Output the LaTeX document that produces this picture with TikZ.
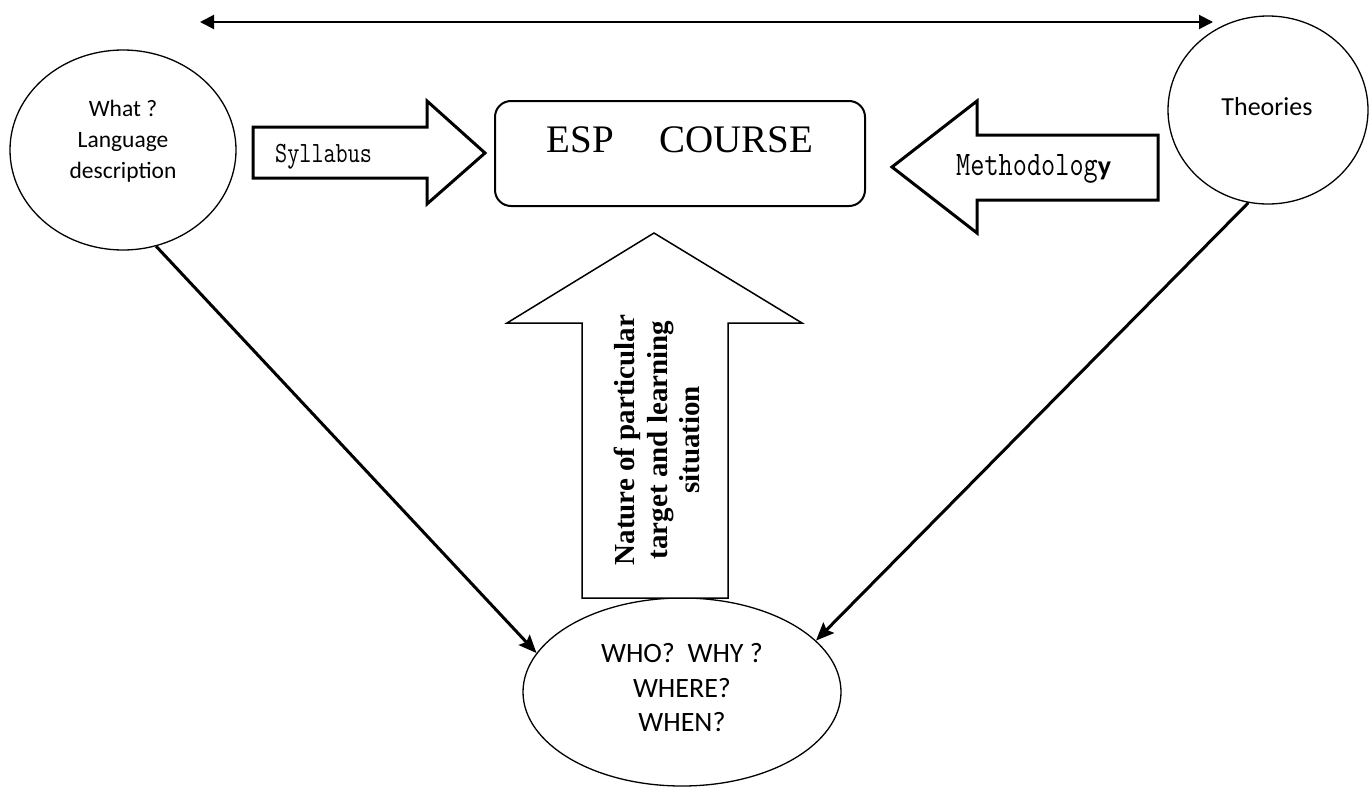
\documentclass[tikz,border=0pt]{standalone}
\usepackage{fontspec}
\setmainfont{Liberation Serif}
\newfontfamily\calibri{Carlito}
\usetikzlibrary{shapes.geometric,arrows.meta}
\tikzset{
  bubble/.style={ellipse, draw, line width=1.3pt, inner sep=0pt},
  blockarrow/.style={draw, line width=3pt, line join=miter, fill=white},
  thinblock/.style={draw, line width=1.5pt, line join=miter, fill=white},
  link/.style={line width=3pt, -{Stealth[length=18pt,width=15pt,inset=3pt]}},
  span/.style={line width=2pt, {Triangle[length=14pt,width=14pt]}-{Triangle[length=14pt,width=14pt]}},
  caltext/.style={font=\calibri, align=center, inner sep=0pt}
}
\begin{document}
\begin{tikzpicture}[x=1pt,y=-1pt]
\useasboundingbox (0,0) rectangle (1371,787);

% top double-headed arrow
\coordinate (tl) at (200,22);
\coordinate (tr) at (1213,22);
\draw[span] (tl) -- (tr);

% source circles
\node[bubble, minimum width=226pt, minimum height=200pt] (lang) at (123,150) {};
\node[caltext, font=\calibri\fontsize{23.5}{31}\selectfont] (langtxt) at (123,141) {What ?\\Language\\description};

\node[bubble, minimum width=200pt, minimum height=188pt] (theo) at (1268,110) {};
\node[caltext, font=\calibri\fontsize{26}{31}\selectfont] (theotxt) at (1267,107) {Theories};

% central course box
\node[draw, line width=2pt, rounded corners=16pt, minimum width=370pt, minimum height=105pt] (esp) at (680,153.5) {};
\node[anchor=base, inner sep=0pt, font=\fontsize{39}{44}\selectfont] (esptxt) at (680,152.7) {ESP\hspace{45pt}COURSE};

% syllabus block arrow
\draw[blockarrow] (253,127) -- (427,127) -- (427,101) -- (485,153) -- (427,204) -- (427,178) -- (253,178) -- cycle;
\node[anchor=base west, inner sep=0pt, font=\ttfamily\fontsize{23.5}{28}\selectfont] (syl) at (275,162) {\scalebox{1}[1.25]{Syllabus}};

% methodology block arrow
\draw[blockarrow] (1158,135) -- (977,135) -- (977,101) -- (892,167) -- (977,233) -- (977,200) -- (1158,200) -- cycle;
\node[anchor=base west, inner sep=0pt] (meth) at (956,175) {\scalebox{1}[1.25]{\ttfamily\fontsize{27.5}{32}\selectfont Methodolog}{\calibri\bfseries\fontsize{28}{32}\selectfont y}};

% learner ellipse
\node[bubble, minimum width=318pt, minimum height=188pt] (who) at (682,692) {};

% situation block arrow
\draw[thinblock] (582,598) -- (582,323) -- (507,323) -- (654,233) -- (802,323) -- (728,323) -- (728,598) -- cycle;
\node[rotate=90, align=center, inner sep=0pt, font=\bfseries\fontsize{29}{32.5}\selectfont] (nat) at (657,440) {Nature of particular\\target and learning\\situation};

\node[caltext, font=\calibri\fontsize{28}{34.5}\selectfont] (whotxt) at (682,688) {WHO?\ \ WHY ?\\WHERE?\\WHEN?};

% links to the learner ellipse
\draw[link] (lang.-71) -- (who.165);
\draw[link] (theo.-102) -- (who.21);
\end{tikzpicture}
\end{document}
